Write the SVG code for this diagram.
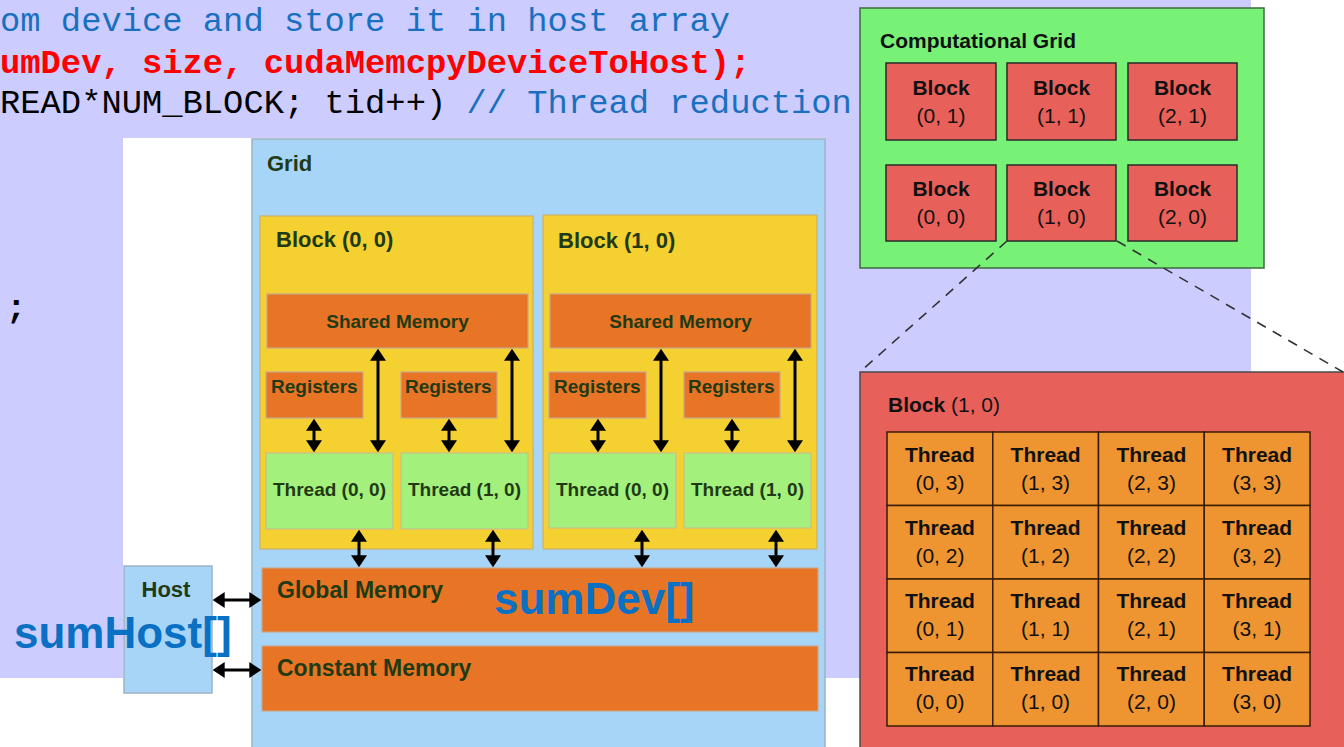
<svg xmlns="http://www.w3.org/2000/svg" width="1344" height="747" viewBox="0 0 1344 747">
  <style>
    .code { font-family: "Liberation Mono", "Courier New", monospace; font-size: 33.8px; }
    .lbl { font-family: "Liberation Sans", Arial, sans-serif; font-weight: bold; fill: #1f3a14; }
    .big { font-family: "Liberation Sans", Arial, sans-serif; font-weight: bold; font-size: 44px; fill: #0a70c4; }
    .cm { font-family: "Liberation Sans", Arial, sans-serif; fill: #111; }
    .cmb { font-weight: bold; }
    .gridbox { fill: #a7d5f7; stroke: #9db3c4; stroke-width: 1.5; }
    .blockbox { fill: #f4d030; stroke: #c9b36a; stroke-width: 1.2; }
    .mem { fill: #e87525; stroke: #c9a68a; stroke-width: 1.2; }
    .thr { fill: #a4f07c; stroke: #c8c08a; stroke-width: 1.2; }
    .cgblock { fill: #e8605a; stroke: #2a2a2a; stroke-width: 1.5; }
    .cell { fill: #ee9430; stroke: #3a1c05; stroke-width: 1.5; }
    .arr { stroke: #000; stroke-width: 3; fill: none; marker-start: url(#ah); marker-end: url(#ah); }
    .dash { stroke: #333; stroke-width: 1.6; stroke-dasharray: 10 8; fill: none; }
  </style>
  <defs>
    <marker id="ah" viewBox="0 0 10 10" refX="7" refY="5" markerWidth="12" markerHeight="16" markerUnits="userSpaceOnUse" preserveAspectRatio="none" orient="auto-start-reverse">
      <path d="M0,0 L10,5 L0,10 z" fill="#000"/>
    </marker>
  </defs>

  <!-- page and slide background -->
  <rect x="0" y="0" width="1344" height="747" fill="#ffffff"/>
  <rect x="0" y="0" width="1251" height="678" fill="#ccccff"/>

  <!-- source code lines -->
  <g id="code">
    <text class="code" x="0" y="31" fill="#1a70c0">om device and store it in host array</text>
    <text class="code" x="0" y="73" fill="#ff0000" font-weight="bold">umDev, size, cudaMemcpyDeviceToHost);</text>
    <text class="code" x="0" y="113" fill="#000">READ*NUM_BLOCK; tid++)<tspan fill="#1a70c0"> // Thread reduction</tspan></text>
    <text class="code" x="6" y="318" fill="#000" font-weight="bold">;</text>
  </g>

  <!-- memory hierarchy figure -->
  <rect x="123" y="138" width="702" height="609" fill="#ffffff"/>

  <g id="grid">
    <rect class="gridbox" x="252" y="139" width="573" height="620"/>
    <text class="lbl" x="267" y="171" font-size="22">Grid</text>
  </g>

  <g id="block00">
    <rect class="blockbox" x="260" y="216" width="273" height="333"/>
    <text class="lbl" x="276" y="247" font-size="22">Block (0, 0)</text>
  </g>
  <g id="shared00">
    <rect class="mem" x="267" y="294" width="261" height="54"/>
    <text class="lbl" x="397.5" y="328" font-size="19" text-anchor="middle">Shared Memory</text>
  </g>
  <g id="regs00a">
    <rect class="mem" x="266" y="372" width="97" height="46"/>
    <text class="lbl" x="271" y="393" font-size="19">Registers</text>
  </g>
  <g id="regs00b">
    <rect class="mem" x="401" y="372" width="96" height="46"/>
    <text class="lbl" x="405" y="393" font-size="19">Registers</text>
  </g>
  <g id="thread00a">
    <rect class="thr" x="266" y="453" width="127" height="76"/>
    <text class="lbl" x="329.5" y="496" font-size="19" text-anchor="middle">Thread (0, 0)</text>
  </g>
  <g id="thread00b">
    <rect class="thr" x="401" y="453" width="127" height="76"/>
    <text class="lbl" x="464.5" y="496" font-size="19" text-anchor="middle">Thread (1, 0)</text>
  </g>

  <g id="block10">
    <rect class="blockbox" x="543" y="215" width="274" height="334"/>
    <text class="lbl" x="558" y="248" font-size="22">Block (1, 0)</text>
  </g>
  <g id="shared10">
    <rect class="mem" x="550" y="294" width="261" height="54"/>
    <text class="lbl" x="680.5" y="328" font-size="19" text-anchor="middle">Shared Memory</text>
  </g>
  <g id="regs10a">
    <rect class="mem" x="549" y="372" width="97" height="46"/>
    <text class="lbl" x="554" y="393" font-size="19">Registers</text>
  </g>
  <g id="regs10b">
    <rect class="mem" x="684" y="372" width="96" height="46"/>
    <text class="lbl" x="688" y="393" font-size="19">Registers</text>
  </g>
  <g id="thread10a">
    <rect class="thr" x="549" y="453" width="127" height="75"/>
    <text class="lbl" x="612.5" y="496" font-size="19" text-anchor="middle">Thread (0, 0)</text>
  </g>
  <g id="thread10b">
    <rect class="thr" x="684" y="453" width="127" height="75"/>
    <text class="lbl" x="747.5" y="496" font-size="19" text-anchor="middle">Thread (1, 0)</text>
  </g>

  <g id="global">
    <rect class="mem" x="262" y="568" width="556" height="64"/>
    <text class="lbl" x="277" y="598" font-size="23">Global Memory</text>
    <text class="big" x="494" y="614">sumDev[]</text>
  </g>
  <g id="constant">
    <rect class="mem" x="262" y="646" width="556" height="65"/>
    <text class="lbl" x="277" y="676" font-size="23">Constant Memory</text>
  </g>
  <g id="host">
    <rect class="gridbox" x="124" y="566" width="88" height="127"/>
    <text class="lbl" x="166" y="597" font-size="22" text-anchor="middle">Host</text>
    <text class="big" x="14" y="648">sumHost[]</text>
  </g>

  <!-- computational grid of blocks -->
  <g id="compgrid">
    <rect x="860" y="8" width="404" height="260" fill="#77f277" stroke="#3d6b3d" stroke-width="1.5"/>
    <text class="cm cmb" x="880" y="48" font-size="21">Computational Grid</text>
  </g>
  <g id="cg01"><rect class="cgblock" x="886" y="63" width="110" height="77"/><text class="cm" x="941" y="95" font-size="21" text-anchor="middle" font-weight="bold">Block</text><text class="cm" x="941" y="123" font-size="21" text-anchor="middle">(0, 1)</text></g>
  <g id="cg11"><rect class="cgblock" x="1007" y="63" width="109" height="77"/><text class="cm" x="1061.5" y="95" font-size="21" text-anchor="middle" font-weight="bold">Block</text><text class="cm" x="1061.5" y="123" font-size="21" text-anchor="middle">(1, 1)</text></g>
  <g id="cg21"><rect class="cgblock" x="1128" y="63" width="109" height="77"/><text class="cm" x="1182.5" y="95" font-size="21" text-anchor="middle" font-weight="bold">Block</text><text class="cm" x="1182.5" y="123" font-size="21" text-anchor="middle">(2, 1)</text></g>
  <g id="cg00"><rect class="cgblock" x="886" y="165" width="110" height="76"/><text class="cm" x="941" y="196" font-size="21" text-anchor="middle" font-weight="bold">Block</text><text class="cm" x="941" y="224" font-size="21" text-anchor="middle">(0, 0)</text></g>
  <g id="cg10"><rect class="cgblock" x="1007" y="165" width="109" height="76"/><text class="cm" x="1061.5" y="196" font-size="21" text-anchor="middle" font-weight="bold">Block</text><text class="cm" x="1061.5" y="224" font-size="21" text-anchor="middle">(1, 0)</text></g>
  <g id="cg20"><rect class="cgblock" x="1128" y="165" width="109" height="76"/><text class="cm" x="1182.5" y="196" font-size="21" text-anchor="middle" font-weight="bold">Block</text><text class="cm" x="1182.5" y="224" font-size="21" text-anchor="middle">(2, 0)</text></g>

  <!-- expanded block (1, 0) with its threads -->
  <g id="blockdetail">
    <rect x="860" y="372" width="490" height="390" fill="#e8605a" stroke="#4a4a4a" stroke-width="1.5"/>
    <text class="cm" x="888" y="412" font-size="21"><tspan font-weight="bold">Block</tspan> (1, 0)</text>
  </g>
  <g id="threads" font-size="21">
    <g id="t03"><rect class="cell" x="887" y="432" width="105.75" height="73.5"/><text class="cm cmb" x="939.9" y="462" text-anchor="middle">Thread</text><text class="cm" x="939.9" y="490" text-anchor="middle">(0, 3)</text></g>
    <g id="t13"><rect class="cell" x="992.75" y="432" width="105.75" height="73.5"/><text class="cm cmb" x="1045.6" y="462" text-anchor="middle">Thread</text><text class="cm" x="1045.6" y="490" text-anchor="middle">(1, 3)</text></g>
    <g id="t23"><rect class="cell" x="1098.5" y="432" width="105.75" height="73.5"/><text class="cm cmb" x="1151.4" y="462" text-anchor="middle">Thread</text><text class="cm" x="1151.4" y="490" text-anchor="middle">(2, 3)</text></g>
    <g id="t33"><rect class="cell" x="1204.25" y="432" width="105.75" height="73.5"/><text class="cm cmb" x="1257.1" y="462" text-anchor="middle">Thread</text><text class="cm" x="1257.1" y="490" text-anchor="middle">(3, 3)</text></g>

    <g id="t02"><rect class="cell" x="887" y="505.5" width="105.75" height="73.5"/><text class="cm cmb" x="939.9" y="535" text-anchor="middle">Thread</text><text class="cm" x="939.9" y="563" text-anchor="middle">(0, 2)</text></g>
    <g id="t12"><rect class="cell" x="992.75" y="505.5" width="105.75" height="73.5"/><text class="cm cmb" x="1045.6" y="535" text-anchor="middle">Thread</text><text class="cm" x="1045.6" y="563" text-anchor="middle">(1, 2)</text></g>
    <g id="t22"><rect class="cell" x="1098.5" y="505.5" width="105.75" height="73.5"/><text class="cm cmb" x="1151.4" y="535" text-anchor="middle">Thread</text><text class="cm" x="1151.4" y="563" text-anchor="middle">(2, 2)</text></g>
    <g id="t32"><rect class="cell" x="1204.25" y="505.5" width="105.75" height="73.5"/><text class="cm cmb" x="1257.1" y="535" text-anchor="middle">Thread</text><text class="cm" x="1257.1" y="563" text-anchor="middle">(3, 2)</text></g>

    <g id="t01"><rect class="cell" x="887" y="579" width="105.75" height="73.5"/><text class="cm cmb" x="939.9" y="608" text-anchor="middle">Thread</text><text class="cm" x="939.9" y="636" text-anchor="middle">(0, 1)</text></g>
    <g id="t11"><rect class="cell" x="992.75" y="579" width="105.75" height="73.5"/><text class="cm cmb" x="1045.6" y="608" text-anchor="middle">Thread</text><text class="cm" x="1045.6" y="636" text-anchor="middle">(1, 1)</text></g>
    <g id="t21"><rect class="cell" x="1098.5" y="579" width="105.75" height="73.5"/><text class="cm cmb" x="1151.4" y="608" text-anchor="middle">Thread</text><text class="cm" x="1151.4" y="636" text-anchor="middle">(2, 1)</text></g>
    <g id="t31"><rect class="cell" x="1204.25" y="579" width="105.75" height="73.5"/><text class="cm cmb" x="1257.1" y="608" text-anchor="middle">Thread</text><text class="cm" x="1257.1" y="636" text-anchor="middle">(3, 1)</text></g>

    <g id="t00"><rect class="cell" x="887" y="652.5" width="105.75" height="73.5"/><text class="cm cmb" x="939.9" y="681" text-anchor="middle">Thread</text><text class="cm" x="939.9" y="709" text-anchor="middle">(0, 0)</text></g>
    <g id="t10"><rect class="cell" x="992.75" y="652.5" width="105.75" height="73.5"/><text class="cm cmb" x="1045.6" y="681" text-anchor="middle">Thread</text><text class="cm" x="1045.6" y="709" text-anchor="middle">(1, 0)</text></g>
    <g id="t20"><rect class="cell" x="1098.5" y="652.5" width="105.75" height="73.5"/><text class="cm cmb" x="1151.4" y="681" text-anchor="middle">Thread</text><text class="cm" x="1151.4" y="709" text-anchor="middle">(2, 0)</text></g>
    <g id="t30"><rect class="cell" x="1204.25" y="652.5" width="105.75" height="73.5"/><text class="cm cmb" x="1257.1" y="681" text-anchor="middle">Thread</text><text class="cm" x="1257.1" y="709" text-anchor="middle">(3, 0)</text></g>
  </g>

  <!-- connectors: memory access arrows and the zoom-out guide lines -->
  <g id="connectors">
    <line class="arr" x1="378" y1="352.3" x2="378" y2="448.7"/>
    <line class="arr" x1="512" y1="352.3" x2="512" y2="448.7"/>
    <line class="arr" x1="314" y1="422.3" x2="314" y2="448.7"/>
    <line class="arr" x1="449" y1="422.3" x2="449" y2="448.7"/>
    <line class="arr" x1="661" y1="352.3" x2="661" y2="448.7"/>
    <line class="arr" x1="795" y1="352.3" x2="795" y2="448.7"/>
    <line class="arr" x1="598" y1="422.3" x2="598" y2="448.7"/>
    <line class="arr" x1="732" y1="422.3" x2="732" y2="448.7"/>
    <line class="arr" x1="359" y1="533.3" x2="359" y2="563.7"/>
    <line class="arr" x1="493" y1="533.3" x2="493" y2="563.7"/>
    <line class="arr" x1="642" y1="533.3" x2="642" y2="563.7"/>
    <line class="arr" x1="776" y1="533.3" x2="776" y2="563.7"/>
    <line class="arr" x1="216.3" y1="600" x2="257.7" y2="600"/>
    <line class="arr" x1="216.3" y1="670" x2="257.7" y2="670"/>
    <line class="dash" x1="1007" y1="241" x2="861" y2="371"/>
    <line class="dash" x1="1117" y1="241" x2="1343" y2="372"/>
  </g>
</svg>
